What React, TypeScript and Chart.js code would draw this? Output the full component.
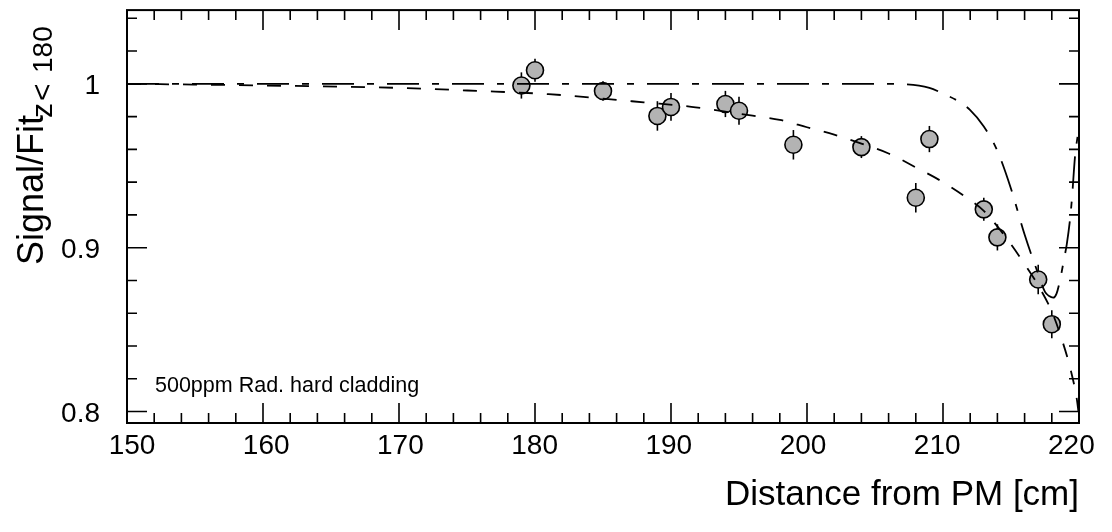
import React, { useEffect, useRef } from "react";
import { Chart, registerables } from "chart.js";

Chart.register(...registerables);

// Measured points
const pointX = [179, 180, 185, 189, 190, 194, 195, 199, 204, 208, 209, 213, 214, 217, 218];
const pointY = [0.999, 1.0083, 0.9956, 0.9804, 0.9859, 0.9877, 0.9836, 0.9628, 0.9614, 0.9305, 0.9663, 0.9234, 0.9063, 0.8806, 0.8533];
const pointErr = [0.008, 0.007, 0.006, 0.009, 0.0085, 0.008, 0.0085, 0.009, 0.0067, 0.009, 0.008, 0.007, 0.008, 0.009, 0.0085];

// Dashed fit curve
const fitX = [150, 160, 170, 176, 181, 185, 188, 191.5, 194, 196, 198, 200, 202, 204, 206, 208, 210, 212, 213, 214, 215, 216, 217, 218, 218.7, 219.4, 219.85, 220];
const fitY = [1.0, 0.999, 0.9975, 0.9956, 0.9937, 0.991, 0.9887, 0.986, 0.983, 0.9806, 0.978, 0.9735, 0.969, 0.9635, 0.9575, 0.949, 0.94, 0.929, 0.9225, 0.913, 0.902, 0.89, 0.877, 0.861, 0.845, 0.825, 0.807, 0.797];

// Dash-dot model curve
const modelX = [150, 205, 207, 209, 210, 211, 212, 213, 214, 215, 216, 217, 217.5, 217.8, 218.1, 218.35, 218.6, 218.9, 219.1, 219.35, 219.5, 219.7, 219.95, 220];
const modelY = [1.0, 1.0, 0.9998, 0.9976, 0.994, 0.99, 0.984, 0.974, 0.959, 0.936, 0.908, 0.884, 0.873, 0.8705, 0.8695, 0.872, 0.88, 0.893, 0.902, 0.918, 0.932, 0.955, 0.971, 0.974];

// Axes
const xMin = 150;
const xMax = 220;
const yMin = 0.793;
const yMax = 1.045;
const xMajorTicks = [150, 160, 170, 180, 190, 200, 210, 220];
const xTickLabels = ["150", "160", "170", "180", "190", "200", "210", "220"];
const yMajorTicks = [0.8, 0.9, 1.0];
const yTickLabels = ["0.8", "0.9", "1"];
const xMinorStep = 2;
const yMinorStep = 0.02;

const xTitle = "Distance from PM [cm]";
const yTitleMain = "Signal/Fit";
const yTitleSub = ["z", "<", "180"];
const annotation = "500ppm Rad. hard cladding";

const FONT = '"Liberation Sans", Arial, Helvetica, sans-serif';

const rootStylePlugin = {
  id: "rootStyle",
  beforeDatasetsDraw(chart: any) {
    const ctx = chart.ctx;
    const xs = chart.scales.x;
    const ys = chart.scales.y;
    ctx.save();
    ctx.strokeStyle = "#000";
    ctx.lineWidth = 1.6;
    for (let i = 0; i < pointX.length; i++) {
      const px = xs.getPixelForValue(pointX[i]);
      const y1 = ys.getPixelForValue(pointY[i] - pointErr[i]);
      const y2 = ys.getPixelForValue(pointY[i] + pointErr[i]);
      ctx.beginPath();
      ctx.moveTo(px, y1);
      ctx.lineTo(px, y2);
      ctx.stroke();
    }
    ctx.restore();
  },
  afterDraw(chart: any) {
    const ctx = chart.ctx;
    const a = chart.chartArea;
    const xs = chart.scales.x;
    const ys = chart.scales.y;
    ctx.save();
    ctx.strokeStyle = "#000";
    ctx.fillStyle = "#000";

    // ticks
    ctx.lineWidth = 1.6;
    const majLen = 20;
    const minLen = 10;
    const nX = Math.round((xMax - xMin) / xMinorStep);
    for (let i = 0; i <= nX; i++) {
      const v = xMin + i * xMinorStep;
      const isMaj = Math.abs(v % 10) < 1e-6;
      const len = isMaj ? majLen : minLen;
      const px = xs.getPixelForValue(v);
      ctx.beginPath();
      ctx.moveTo(px, a.bottom);
      ctx.lineTo(px, a.bottom - len);
      ctx.moveTo(px, a.top);
      ctx.lineTo(px, a.top + len);
      ctx.stroke();
    }
    const yStart = 0.8;
    const nY = Math.round((1.04 - yStart) / yMinorStep);
    for (let i = 0; i <= nY; i++) {
      const v = yStart + i * yMinorStep;
      const isMaj = yMajorTicks.some((t) => Math.abs(t - v) < 1e-6);
      const len = isMaj ? majLen : minLen;
      const py = ys.getPixelForValue(v);
      ctx.beginPath();
      ctx.moveTo(a.left, py);
      ctx.lineTo(a.left + len, py);
      ctx.moveTo(a.right, py);
      ctx.lineTo(a.right - len, py);
      ctx.stroke();
    }

    // frame
    ctx.lineWidth = 2;
    ctx.strokeRect(a.left, a.top, a.right - a.left, a.bottom - a.top);

    // x tick labels
    ctx.font = `28px ${FONT}`;
    ctx.textAlign = "center";
    ctx.textBaseline = "alphabetic";
    xMajorTicks.forEach((v, i) => {
      const px = xs.getPixelForValue(v) + (5 - 0.18 * (v - xMin));
      ctx.fillText(xTickLabels[i], px, a.bottom + 31);
    });

    // y tick labels
    ctx.textAlign = "right";
    yMajorTicks.forEach((v, i) => {
      const py = ys.getPixelForValue(v);
      ctx.fillText(yTickLabels[i], 100, py + 10);
    });

    // x title
    ctx.font = `35px ${FONT}`;
    ctx.textAlign = "right";
    ctx.fillText(xTitle, a.right, 505);

    // y title (rotated)
    ctx.save();
    ctx.translate(43, 265);
    ctx.rotate(-Math.PI / 2);
    ctx.textAlign = "left";
    ctx.font = `36px ${FONT}`;
    ctx.fillText(yTitleMain, 0, 0);
    ctx.font = `30px ${FONT}`;
    ctx.fillText(yTitleSub[0], 147, 9);
    ctx.fillText(yTitleSub[1], 164, 9);
    ctx.font = `28px ${FONT}`;
    ctx.fillText(yTitleSub[2], 192, 9);
    ctx.restore();

    // annotation
    ctx.font = `21.5px ${FONT}`;
    ctx.textAlign = "left";
    ctx.fillText(annotation, 155, 392);

    ctx.restore();
  },
};

export default function App() {
  const canvasRef = useRef<HTMLCanvasElement | null>(null);

  useEffect(() => {
    const canvas = canvasRef.current;
    if (!canvas) return;
    const chart = new Chart(canvas, {
      type: "line",
      data: {
        datasets: [
          {
            label: "fit",
            data: fitX.map((x, i) => ({ x, y: fitY[i] })),
            borderColor: "#000",
            borderWidth: 1.8,
            borderDash: [14, 14],
            pointRadius: 0,
            fill: false,
            cubicInterpolationMode: "monotone",
            order: 0,
          },
          {
            label: "model",
            data: modelX.map((x, i) => ({ x, y: modelY[i] })),
            borderColor: "#000",
            borderWidth: 1.8,
            borderDash: [32, 13, 7, 13],
            pointRadius: 0,
            fill: false,
            cubicInterpolationMode: "monotone",
            order: 0,
          },
          {
            label: "data",
            data: pointX.map((x, i) => ({ x, y: pointY[i] })),
            showLine: false,
            pointRadius: 8.5,
            pointBackgroundColor: "#b3b3b3",
            pointBorderColor: "#000",
            pointBorderWidth: 1.6,
            order: 1,
          },
        ],
      },
      options: {
        responsive: false,
        animation: false,
        events: [],
        layout: { padding: { left: 127, right: 33, top: 8, bottom: 109 } },
        plugins: { legend: { display: false }, tooltip: { enabled: false } },
        scales: {
          x: { type: "linear", min: xMin, max: xMax, display: false },
          y: { type: "linear", min: yMin, max: yMax, display: false },
        },
      },
      plugins: [rootStylePlugin],
    });
    return () => chart.destroy();
  }, []);

  return (
    <div style={{ position: "absolute", left: 0, top: 0, width: 1112, height: 532, background: "#fff" }}>
      <canvas ref={canvasRef} width={1112} height={532} />
    </div>
  );
}
